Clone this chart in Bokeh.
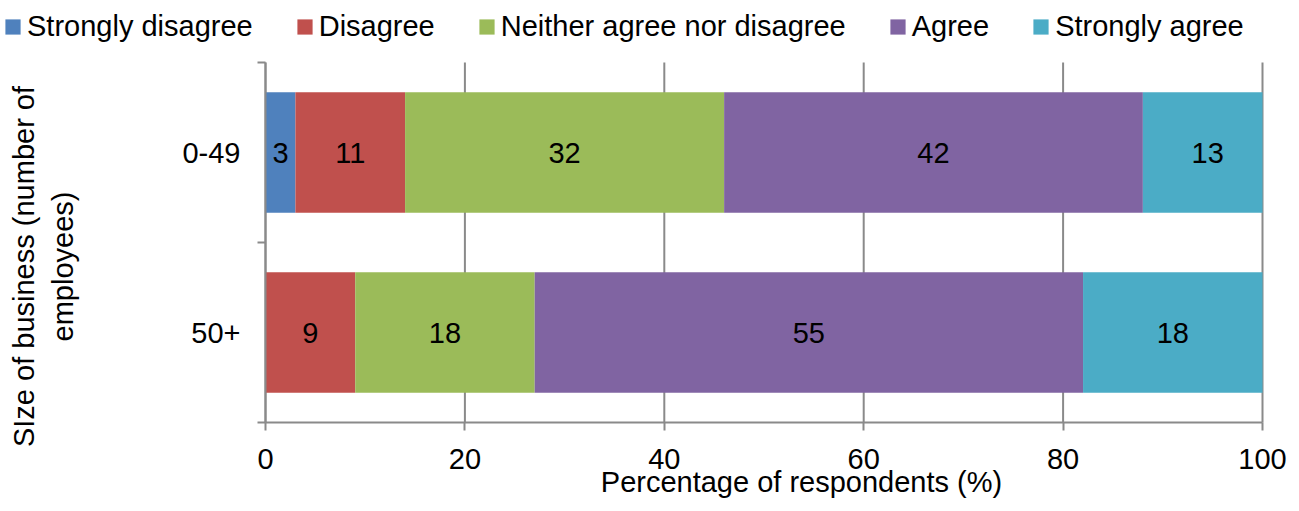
import math

from bokeh.core.properties import value
from bokeh.embed import file_html
from bokeh.models import (ColumnDataSource, FixedTicker, Label, Legend, LegendItem,
                          LinearAxis, Range1d)
from bokeh.plotting import figure
from bokeh.resources import INLINE

# Survey responses by business size (percent of respondents)
sizes = ["50+", "0-49"]  # bottom to top
responses = ["Strongly disagree", "Disagree", "Neither agree nor disagree", "Agree", "Strongly agree"]
strongly_disagree = [0, 3]
disagree = [9, 11]
neither = [18, 32]
agree = [55, 42]
strongly_agree = [18, 13]
x_ticks = [0, 20, 40, 60, 80, 100]

series = [strongly_disagree, disagree, neither, agree, strongly_agree]
colors = ["#4F81BD", "#C0504D", "#9BBB59", "#8064A2", "#4BACC6"]

FONT = "Liberation Sans"
FS = "29px"
GRID = "#8a8a8a"
W, H = 1299, 511
# plotting area in page pixels: left, right, top, bottom
AX_L, AX_R, AX_T, AX_B = 265, 1262, 62, 422

x_max = 100
y_max = len(sizes)
ppx = (AX_R - AX_L) / x_max
ppy = (AX_B - AX_T) / y_max

p = figure(
    width=W, height=H,
    x_range=Range1d(-AX_L / ppx, x_max + (W - AX_R) / ppx),
    y_range=Range1d(-(H - AX_B) / ppy, y_max + AX_T / ppy),
    output_backend="svg", toolbar_location=None,
    x_axis_type=None, y_axis_type=None,
    min_border=0, min_border_left=0, min_border_right=0, min_border_top=0, min_border_bottom=0,
)
p.outline_line_color = None
p.background_fill_color = "white"
p.xgrid.visible = False
p.ygrid.visible = False

# vertical gridlines spanning the plotting area
p.segment(x0=x_ticks, y0=[0] * len(x_ticks), x1=x_ticks, y1=[y_max] * len(x_ticks),
          line_color=GRID, line_width=2)

y_pos = [i + 0.5 for i in range(len(sizes))]

renderers = []
label_x, label_y, label_t = [], [], []
left = [0.0] * len(sizes)
for name, vals, col in zip(responses, series, colors):
    right = [l + v for l, v in zip(left, vals)]
    # bars stop at the axis maximum
    src = ColumnDataSource(dict(y=y_pos, left=left, right=[min(r, x_max) for r in right]))
    r = p.hbar(y="y", left="left", right="right", height=0.67, source=src,
               fill_color=col, line_color=None)
    renderers.append((name, r))
    for yy, l, v in zip(y_pos, left, vals):
        if v > 0:
            label_x.append(l + v / 2)
            label_y.append(yy)
            label_t.append(str(v))
    left = right

p.text(x=label_x, y=label_y, text=label_t, text_align="center", text_baseline="middle",
       text_font=value(FONT), text_font_size=FS, text_color="black")

# axes pinned to the data origin
xa = LinearAxis(fixed_location=0, bounds=(0, x_max), ticker=FixedTicker(ticks=x_ticks))
xa.axis_line_color = GRID
xa.axis_line_width = 2
xa.major_tick_line_color = GRID
xa.major_tick_line_width = 2
xa.major_tick_out = 8
xa.major_tick_in = 0
xa.minor_tick_line_color = None
xa.major_label_text_font = FONT
xa.major_label_text_font_size = FS
xa.major_label_text_color = "black"
xa.major_label_standoff = 18
p.add_layout(xa, "below")

ya = LinearAxis(fixed_location=0, bounds=(0, y_max),
                ticker=FixedTicker(ticks=y_pos, minor_ticks=list(range(y_max + 1))))
ya.major_label_overrides = {yy: s for yy, s in zip(y_pos, sizes)}
ya.axis_line_color = GRID
ya.axis_line_width = 2
ya.major_tick_line_color = None
ya.major_tick_out = 0
ya.major_tick_in = 0
ya.minor_tick_line_color = GRID
ya.minor_tick_line_width = 2
ya.minor_tick_out = 8
ya.minor_tick_in = 0
ya.major_label_text_font = FONT
ya.major_label_text_font_size = FS
ya.major_label_text_color = "black"
ya.major_label_standoff = 17
p.add_layout(ya, "left")

# axis titles
p.add_layout(Label(x=801, y=H - 481, x_units="screen", y_units="screen",
                   text="Percentage of respondents (%)", text_align="center",
                   text_baseline="middle", text_font=FONT, text_font_size=FS,
                   text_color="black"))
p.add_layout(Label(x=43, y=H - 266, x_units="screen", y_units="screen",
                   text="SIze of business (number of\nemployees)", angle=math.pi / 2,
                   text_align="center", text_baseline="middle", text_font=FONT,
                   text_font_size=FS, text_color="black", text_line_height=1.2))

legend = Legend(
    items=[LegendItem(label=n, renderers=[r]) for n, r in renderers],
    orientation="horizontal", location=(3, 468),
    glyph_width=19, glyph_height=19, label_standoff=5, spacing=42,
    padding=0, margin=0, border_line_color=None, background_fill_alpha=0,
    label_text_font=FONT, label_text_font_size=FS, label_text_color="black",
)
p.add_layout(legend)

open("out.html", "w").write(file_html(p, INLINE))
